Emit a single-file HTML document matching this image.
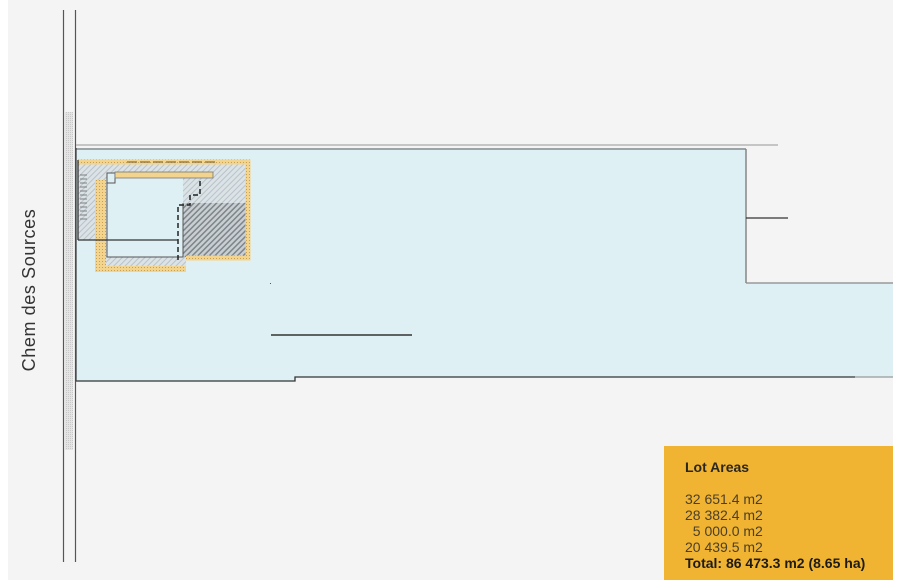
<!DOCTYPE html>
<html><head><meta charset="utf-8"><style>
html,body{margin:0;padding:0;background:#fff;}
body{width:921px;height:588px;position:relative;overflow:hidden;font-family:"Liberation Sans",sans-serif;}
.box{position:absolute;left:664px;top:446px;width:229px;height:134px;background:#f0b432;color:#3a3325;}
</style></head><body>
<svg width="921" height="588" style="position:absolute;left:0;top:0">
<defs>
<pattern id="dots" width="3" height="3" patternUnits="userSpaceOnUse"><rect width="3" height="3" fill="#f2d48e"/><rect width="1" height="1" fill="#c9a050"/></pattern>
<pattern id="hatch" width="4" height="4" patternUnits="userSpaceOnUse" patternTransform="rotate(45)"><rect width="4" height="4" fill="#c8ced2"/><rect width="1.5" height="4" fill="#7d858a"/></pattern>
<pattern id="lhatch" width="4" height="4" patternUnits="userSpaceOnUse" patternTransform="rotate(45)"><rect width="4" height="4" fill="#dbe3e7"/><rect width="1" height="4" fill="#b8c2c8"/></pattern>
<pattern id="road" width="2" height="2" patternUnits="userSpaceOnUse"><rect width="2" height="2" fill="#e4e4e4"/><rect width="1" height="1" fill="#c8c8c8"/></pattern>
</defs>
<rect x="8" y="0" width="885" height="580" fill="#f4f4f4"/>
<line x1="63.5" y1="10" x2="63.5" y2="562" stroke="#555" stroke-width="1.2"/>
<line x1="75.5" y1="10" x2="75.5" y2="562" stroke="#555" stroke-width="1.2"/>
<rect x="65" y="112" width="8" height="338" fill="url(#road)"/>
<polygon points="76,148 746,148 746,283 893,283 893,377 295,377 295,381 76,381" fill="#dff0f5"/>
<line x1="76" y1="145" x2="778" y2="145" stroke="#b5b5b5" stroke-width="1.5"/>
<line x1="76" y1="149" x2="746" y2="149" stroke="#777" stroke-width="1.3"/>
<line x1="746" y1="149" x2="746" y2="283" stroke="#777" stroke-width="1.3"/>
<line x1="746" y1="283" x2="893" y2="283" stroke="#888" stroke-width="1.3"/>
<line x1="746" y1="218" x2="788" y2="218" stroke="#333" stroke-width="1.2"/>
<polyline points="855,377 295,377 295,381 76,381" fill="none" stroke="#333" stroke-width="1.3"/>
<line x1="855" y1="377" x2="893" y2="377" stroke="#999" stroke-width="1.3"/>
<line x1="76" y1="148" x2="76" y2="381" stroke="#444" stroke-width="1.3"/>
<line x1="271" y1="335" x2="412" y2="335" stroke="#333" stroke-width="1.5"/>
<rect x="270" y="283" width="1" height="1" fill="#555"/>
<!-- building -->
<polygon points="78,160 250,160 250,260 186,260 186,272 95,272 95,240 78,240" fill="url(#lhatch)"/>
<rect x="183" y="203" width="63" height="54" fill="url(#hatch)"/>
<polygon points="95,180 106,180 106,266 186,266 186,272 95,272" fill="url(#dots)"/>
<polyline points="78,162 248,162 248,258 186,258" fill="none" stroke="url(#dots)" stroke-width="5"/>
<rect x="107" y="176" width="76" height="81" fill="#dff0f5"/>
<rect x="107" y="173" width="8" height="10" fill="#dff0f5" stroke="#555"/>
<rect x="115" y="172" width="98" height="6" fill="#f2d48e" stroke="#777" stroke-width="0.8"/>
<polyline points="107,176 107,257 183,257 183,203" fill="none" stroke="#555" stroke-width="1"/>
<polyline points="178,260 178,205 190,205 190,195 200,195 200,180" fill="none" stroke="#222" stroke-width="1.5" stroke-dasharray="5,3"/>
<line x1="78" y1="240" x2="178" y2="240" stroke="#333" stroke-width="1.3"/>
<line x1="78" y1="160" x2="78" y2="240" stroke="#333" stroke-width="1.3"/>
<line x1="127" y1="162" x2="215" y2="162" stroke="#887040" stroke-width="1.2" stroke-dasharray="10,3"/>
<g stroke="#666" stroke-width="0.8">
<line x1="80" y1="175" x2="87" y2="175"/><line x1="80" y1="179" x2="87" y2="179"/><line x1="80" y1="183" x2="87" y2="183"/><line x1="80" y1="187" x2="87" y2="187"/><line x1="80" y1="191" x2="87" y2="191"/><line x1="80" y1="195" x2="87" y2="195"/><line x1="80" y1="199" x2="87" y2="199"/><line x1="80" y1="203" x2="87" y2="203"/><line x1="80" y1="207" x2="87" y2="207"/><line x1="80" y1="211" x2="87" y2="211"/><line x1="80" y1="215" x2="87" y2="215"/><line x1="80" y1="219" x2="87" y2="219"/>
</g>
<text transform="translate(35,290) rotate(-90)" text-anchor="middle" font-family="Liberation Sans, sans-serif" font-size="18" letter-spacing="0.6" fill="#333">Chem des Sources</text>
</svg>
<div class="box">
<div style="position:absolute;left:21px;top:13px;font-size:14px;font-weight:bold;color:#2a2620">Lot Areas</div>
<div style="position:absolute;left:21px;top:45px;font-size:14px;line-height:16px;color:#4a3f2a">32 651.4 m2<br>28 382.4 m2<br>&nbsp;&nbsp;5 000.0 m2<br>20 439.5 m2<br><b style="color:#1e1b16">Total: 86 473.3 m2 (8.65 ha)</b></div>
</div>
</body></html>
